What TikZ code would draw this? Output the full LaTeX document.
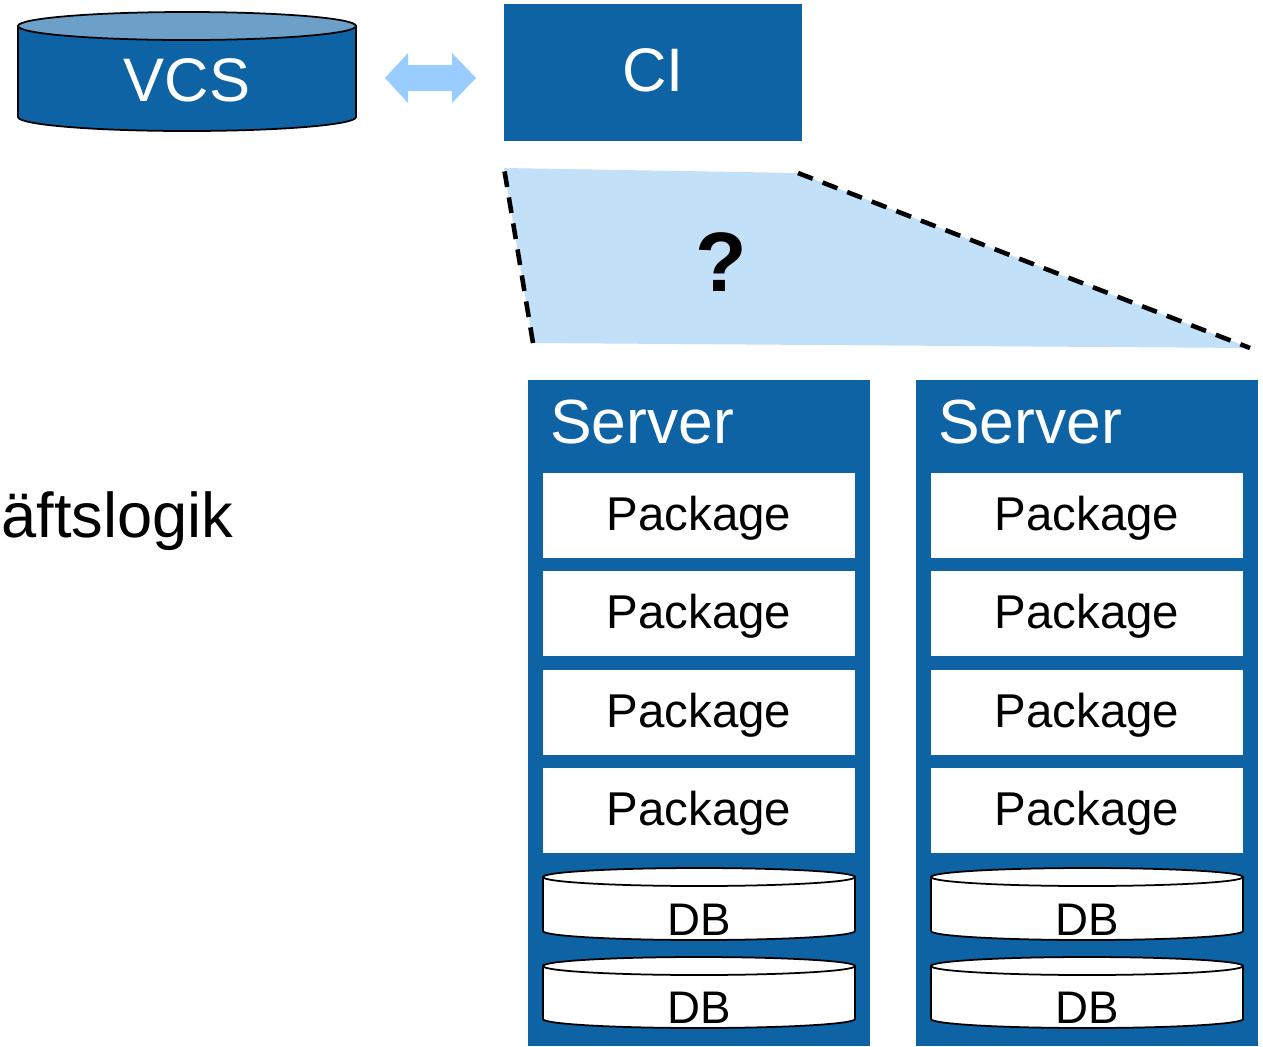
\documentclass[tikz,border=0pt]{standalone}
\usepackage{fontspec}
\setmainfont{Liberation Sans}
\definecolor{boxblue}{HTML}{0E63A5}
\definecolor{capblue}{HTML}{6CA0C8}
\definecolor{zonefill}{HTML}{C2E1F8}
\definecolor{arrowblue}{HTML}{99CCFF}
\tikzset{
  bluebox/.style={fill=boxblue, draw=none, inner sep=0pt, outer sep=0pt},
  pkgbox/.style={fill=white, draw=none, inner sep=0pt, outer sep=0pt,
    minimum width=6.24cm, minimum height=1.7cm},
  pkglabel/.style={inner sep=0pt, font=\fontsize{27}{30}\selectfont},
  servertitle/.style={text=white, anchor=base west, inner sep=0pt,
    font=\fontsize{35.5}{40}\selectfont},
  dblabel/.style={inner sep=0pt, font=\fontsize{26}{28}\selectfont},
  dashedge/.style={draw=black, line width=2.6pt, dash pattern=on 9pt off 6pt},
}
% cylinder: #1 centre x, #2 half width, #3 top centre y, #4 bottom centre y,
% #5 cap half height, #6 body fill, #7 cap fill
\newcommand\drumshape[7]{%
  \draw[line width=1pt, fill=#6] (#1-#2,#3) -- (#1-#2,#4)
     arc[start angle=180, end angle=360, x radius=#2*0.02cm, y radius=#5*0.02cm]
     -- (#1+#2,#3) -- cycle;
  \draw[line width=1pt, fill=#7] (#1,#3) ellipse [x radius=#2*0.02cm, y radius=#5*0.02cm];
}
\begin{document}
\begin{tikzpicture}[x=0.02cm, y=0.02cm]
\useasboundingbox (0,0) rectangle (1263,-1046);

% version control store
\drumshape{187}{169}{-26}{-117}{14}{boxblue}{capblue}
\node[text=white, font=\fontsize{35}{40}\selectfont, inner sep=0pt] (vcs) at (187,-80) {VCS};

% build server
\node[bluebox, minimum width=5.96cm, minimum height=2.74cm] (ci) at (653,-72.5) {};
\node[text=white, font=\fontsize{35}{40}\selectfont, inner sep=0pt] (citext) at (653,-70) {CI};

% two-way exchange between VCS and CI
\coordinate (aL) at (385,-78);
\coordinate (aR) at (476,-78);
\fill[arrowblue] (aL) -- ++(23,25) -- ++(0,-12) -- ++(44,0) -- ++(0,12)
  -- (aR) -- ++(-24,-25) -- ++(0,12) -- ++(-44,0) -- ++(0,-12) -- cycle;

% unknown deployment zone
\coordinate (t1) at (504,-168);
\coordinate (t2) at (798,-173);
\coordinate (t3) at (1250,-348);
\coordinate (t4) at (533,-343);
\fill[zonefill] (t1) -- (t2) -- (t3) -- (t4) -- cycle;
\draw[dashedge] (t4) -- (t1);
\draw[dashedge] (t2) -- (t3);
\node[font=\bfseries\fontsize{48}{50}\selectfont, inner sep=0pt] (q) at (721,-262) {?};

% partial text at left
\node[font=\fontsize{36}{40}\selectfont, anchor=west, inner sep=0pt] (logic) at (1,-521) {äftslogik};

% servers
\foreach \cx/\nm in {699/left, 1087/right}{
  \node[bluebox, minimum width=6.84cm, minimum height=13.32cm] (srv-\nm) at (\cx,-713) {};
  \node[servertitle] (title-\nm) at (\cx-149,-443) {Server};
  \foreach \cy [count=\i] in {515, 613.5, 712.5, 810.5}{
    \node[pkgbox] (pkg-\nm-\i) at (\cx,-\cy) {};
    \node[pkglabel] (pkgtext-\nm-\i) at (\cx,-\cy-3) {Package};
  }
  \drumshape{\cx}{156}{-877}{-931}{9}{white}{white}
  \node[dblabel] (db-\nm-1) at (\cx,-920) {DB};
  \drumshape{\cx}{156}{-966}{-1019}{9}{white}{white}
  \node[dblabel] (db-\nm-2) at (\cx,-1008) {DB};
}
\end{tikzpicture}
\end{document}
